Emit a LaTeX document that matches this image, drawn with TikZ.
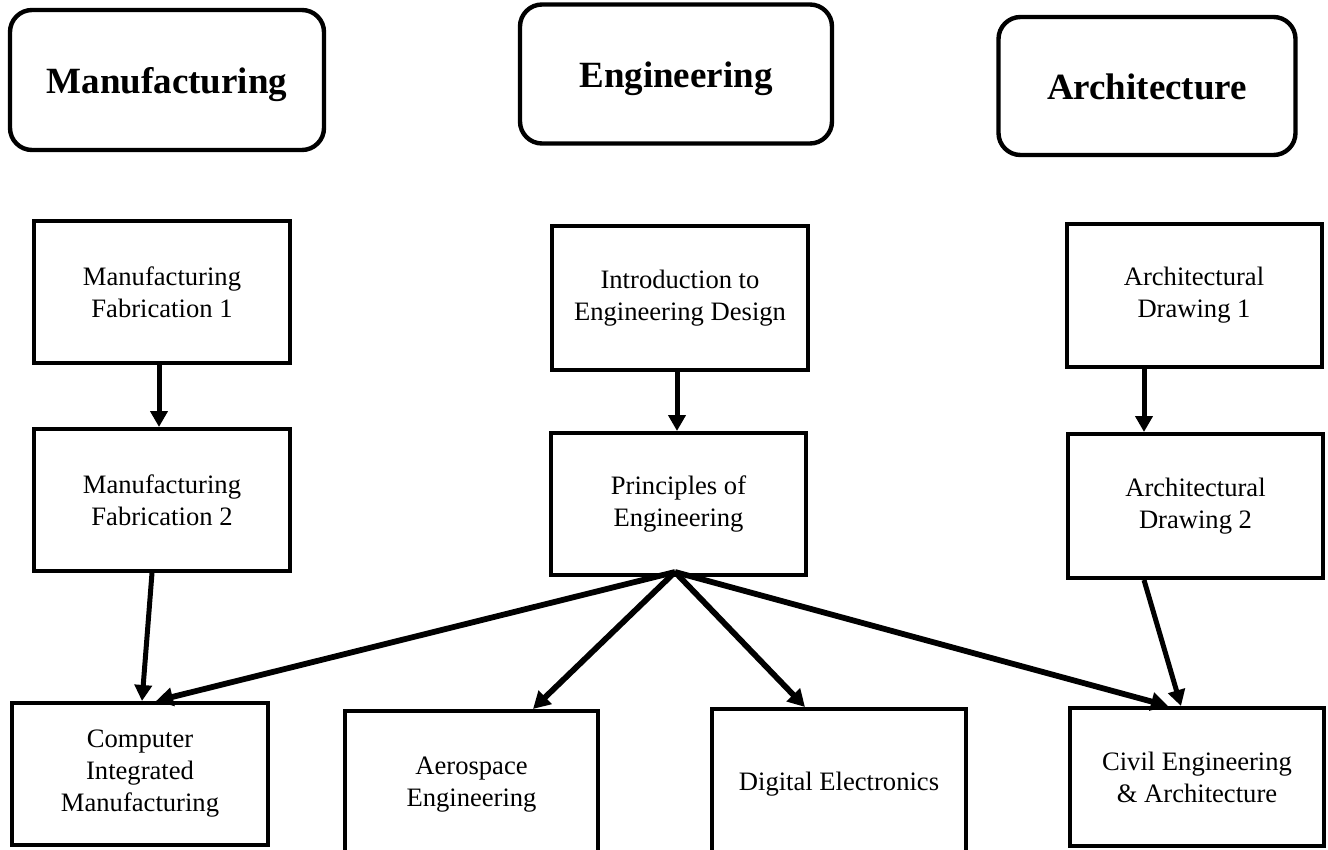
\documentclass[tikz,border=0pt]{standalone}
\usepackage{fontspec}
\setmainfont{Liberation Serif}
\usepackage{tikz}
\usetikzlibrary{arrows.meta}
\usepackage{xcolor}

\tikzset{
  course/.style={draw,line width=2pt,align=center,minimum width=128pt,minimum height=71pt,
    font=\fontsize{13.3}{16}\selectfont},
  track/.style={draw,line width=2.2pt,rounded corners=11pt,align=center,
    text height=14pt,text depth=0pt,font=\fontsize{18.5}{22}\selectfont\bfseries},
  leads/.style={line width=2.5pt,-{Triangle[length=8pt,width=8.5pt]}},
  fans/.style={line width=2.9pt,-{Triangle[length=8.5pt,width=9pt]}}
}

\begin{document}
\begin{tikzpicture}[x=0.5pt,y=-0.5pt]
  \useasboundingbox (0,0) rectangle (1328,850);
  \clip (0,0) rectangle (1328,850);

  % the three tracks
  \node[track,minimum width=157pt,minimum height=70pt] (manu) at (167,80) {Manufacturing};
  \node[track,minimum width=156pt,minimum height=69.5pt] (eng) at (676,74) {Engineering};
  \node[track,minimum width=148.5pt,minimum height=69pt] (arch) at (1147,86) {Architecture};

  % courses
  \node[course] (mf1) at (162,292) {Manufacturing\\Fabrication 1};
  \node[course] (mf2) at (162,500) {Manufacturing\\Fabrication 2};
  \node[course,minimum height=72pt] (intro) at (680,298) {Introduction to\\Engineering Design};
  \node[course,minimum width=127.5pt] (princ) at (678.5,504) {Principles of\\Engineering};
  \node[course,minimum width=127.5pt] (ad1) at (1194,295.5) {Architectural\\Drawing 1};
  \node[course,minimum width=127.5pt,minimum height=72pt] (ad2) at (1195.5,506) {Architectural\\Drawing 2};

  \node[course] (cim) at (140,774) {Computer\\Integrated\\Manufacturing};
  \node[course,minimum width=126.5pt,minimum height=74pt] (aero) at (471.5,785) {Aerospace\\Engineering};
  \node[course,minimum width=127pt,minimum height=75pt] (digi) at (839,784) {Digital Electronics};
  \node[course,minimum width=127pt,minimum height=69pt] (civil) at (1197,777) {Civil Engineering\\\& Architecture};

  \coordinate (hub) at ([xshift=-1.75pt,yshift=2.5pt]princ.south);

  \draw[leads] ([xshift=-1.5pt]mf1.south) -- ([xshift=-1.5pt]mf1.south |- mf2.north);
  \draw[leads] ([xshift=-5pt]mf2.south) -- ([xshift=1pt]cim.north);
  \draw[leads] ([xshift=-1.5pt]intro.south) -- ([xshift=-1.5pt]intro.south |- princ.north);
  \draw[leads] ([xshift=-25pt]ad1.south) -- ([xshift=-25pt]ad1.south |- ad2.north);
  \draw[leads] ([xshift=-25.75pt]ad2.south) -- ([xshift=-8pt]civil.north);

  \draw[fans] (hub) -- ([xshift=8pt]cim.north);
  \draw[fans] (hub) -- ([xshift=30.75pt]aero.north);
  \draw[fans] (hub) -- ([xshift=-17pt]digi.north);
  \draw[fans] (hub) -- ([xshift=-14.5pt]civil.north);

\end{tikzpicture}
\end{document}
